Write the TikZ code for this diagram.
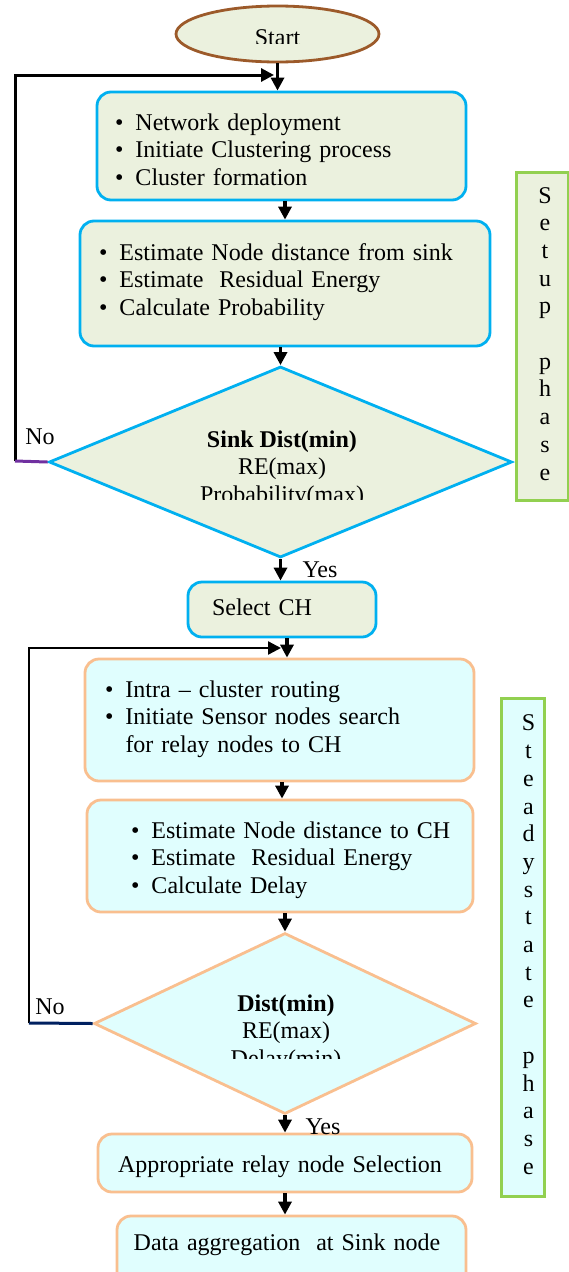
\documentclass[tikz,border=0pt]{standalone}
\usepackage{fontspec}
\setmainfont{Liberation Serif}
\usetikzlibrary{arrows.meta,shapes.geometric,calc}
\definecolor{olivefill}{HTML}{EBF1DE}
\definecolor{cyanline}{HTML}{00B0F0}
\definecolor{aquafill}{HTML}{E0FEFE}
\definecolor{orangeline}{HTML}{F9BF8F}
\definecolor{greenline}{HTML}{92D050}
\definecolor{brownline}{HTML}{9C5A2A}
\definecolor{purpleline}{HTML}{7030A0}
\definecolor{navyline}{HTML}{002060}
\newcommand\topS[1]{\rule{0pt}{#1pt}}
\newcommand\botS[1]{\rule[-#1pt]{0pt}{#1pt}}
\newcommand\bl[1]{\hspace*{#1pt}\makebox[20.5pt][l]{\textbullet}}
\newcommand\pl[2]{\hspace*{#1pt}#2\strut}
\begin{document}
\begin{tikzpicture}[x=1pt,y=-1pt,
  font=\fontsize{24}{27.5}\selectfont,
  sbox/.style={draw=cyanline, fill=olivefill, line width=2.8pt, rounded corners=14pt, inner sep=0pt, align=left},
  obox/.style={draw=orangeline, fill=aquafill, line width=2.8pt, rounded corners=14pt, inner sep=0pt, align=left},
  arr/.style={line width=3.2pt, -{Triangle[length=13pt,width=13pt]}},
  dtext/.style={inner sep=0pt, align=center, anchor=north},
  lbl/.style={inner sep=0pt},
  phase/.style={draw=greenline, line width=3pt, inner sep=0pt, align=center, font=\fontsize{24}{27.7}\selectfont}
]
\useasboundingbox (0,0) rectangle (569,1272);
\clip (0,0) rectangle (569,1272);

% ---------- setup phase ----------
\node[draw=brownline, fill=olivefill, line width=2.8pt, ellipse, minimum width=203pt, minimum height=56pt, inner sep=0pt] (start) at (277.5,34) {};
\begin{scope}
  \clip (200,20) rectangle (360,43.5);
  \node[lbl, anchor=base] (startt) at (277.5,45) {Start};
\end{scope}

\node[sbox, text width=369pt, minimum height=108pt] (b1) at (281.5,146)
  {\bl{18}Network deployment\topS{31.25}\strut\\
   \bl{18}Initiate Clustering process\strut\\
   \bl{18}Cluster formation\strut};

\node[sbox, text width=410pt, minimum height=125pt] (b2) at (285,283.5)
  {\bl{19}Estimate Node distance from sink\strut\\
   \bl{19}Estimate~ Residual Energy\strut\\
   \bl{19}Calculate Probability\strut\botS{11.25}};

\node[diamond, draw=cyanline, fill=olivefill, line width=2.8pt, minimum width=463pt, minimum height=191pt, inner sep=0pt] (d1) at (280.5,462) {};
\begin{scope}
  \clip (60,420) rectangle (500,499.5);
  \node[dtext] (d1t) at (282,427.75) {\textbf{Sink Dist(min)}\strut\\RE(max)\strut\\Probability(max)\strut};
\end{scope}

\node[sbox, text width=188pt, minimum height=55pt] (sel) at (282,609.5)
  {\hspace*{24pt}Select CH\topS{19.25}\strut};

\node[phase, fill=olivefill, minimum width=52pt, minimum height=328pt] (setup) at (542,336)
  {\pl{6}{S}\\\pl{6}{e}\\\pl{6}{t}\\\pl{6}{u}\\\pl{6}{p}\\\pl{6}{}\\\pl{6}{p}\\\pl{6}{h}\\\pl{6}{a}\\\pl{6}{s}\\\pl{6}{e}};

% ---------- steady state phase ----------
\node[obox, text width=389pt, minimum height=122pt] (b3) at (279.5,720)
  {\bl{20}Intra – cluster routing\strut\\
   \bl{20}Initiate Sensor nodes search\strut\\
   \hspace*{40.5pt}for relay nodes to CH\strut\botS{10.25}};

\node[obox, text width=386pt, minimum height=112pt] (b4) at (280,856)
  {\bl{44}Estimate Node distance to CH\topS{27.25}\strut\\
   \bl{44}Estimate~ Residual Energy\strut\\
   \bl{44}Calculate Delay\strut};

\node[diamond, draw=orangeline, fill=aquafill, line width=2.8pt, minimum width=382pt, minimum height=181pt, inner sep=0pt] (d2) at (285,1023.5) {};
\begin{scope}
  \clip (120,980) rectangle (450,1058);
  \node[dtext] (d2t) at (286,991.75) {\textbf{Dist(min)}\strut\\RE(max)\strut\\Delay(min)\strut};
\end{scope}

\node[obox, align=center, text width=374pt, minimum height=58pt] (b5) at (285,1163)
  {\hspace*{-10pt}Appropriate relay node Selection\topS{26.25}\strut};

\node[obox, align=center, text width=349pt, minimum height=74pt] (b6) at (291.5,1253)
  {\hspace*{-9pt}Data aggregation~ at Sink node\strut\botS{25.25}};

\node[phase, fill=aquafill, minimum width=43pt, minimum height=498pt] (steady) at (522.5,947)
  {\pl{12}{S}\\\pl{12}{t}\\\pl{12}{e}\\\pl{12}{a}\\\pl{12}{d}\\\pl{12}{y}\\\pl{12}{s}\\\pl{12}{t}\\\pl{12}{a}\\\pl{12}{t}\\\pl{12}{e}\\\pl{12}{}\\\pl{12}{p}\\\pl{12}{h}\\\pl{12}{a}\\\pl{12}{s}\\\pl{12}{e}};

% ---------- connectors ----------
\coordinate (c1) at (15,461);
\coordinate (j1) at (274,75);
\coordinate (c2) at (29,1023);
\coordinate (j2) at (281,648);

\draw[arr] (start.south) -- (start.south |- b1.north);
\draw[arr, line width=3pt] (c1) |- (j1);
\draw[line width=3pt, purpleline] (d1.west) -- (c1);
\draw[arr] (b1.south -| b2.north) -- (b2.north);
\draw[arr] (b2.south -| d1.north) -- (d1.north);
\draw[arr] (d1.south) -- (d1.south |- sel.north);
\draw[arr] ([xshift=5pt]sel.south) -- ([xshift=5pt]sel.south |- b3.north);
\draw[arr, line width=2.4pt] (c2) |- (j2);
\draw[line width=3pt, navyline] (d2.west) -- (c2);
\draw[arr] ([xshift=2.5pt]b3.south) -- ([xshift=2.5pt]b3.south |- b4.north);
\draw[arr] (b4.south -| d2.north) -- (d2.north);
\draw[arr] (d2.south) -- (d2.south |- b5.north);
\draw[arr] (b5.south) -- (b5.south |- b6.north);

\node[lbl] (yes1) at (320,570) {Yes};
\node[lbl] (yes2) at (323,1127) {Yes};
\node[lbl] (no1) at (40,437) {No};
\node[lbl] (no2) at (50,1007) {No};
\end{tikzpicture}
\end{document}
